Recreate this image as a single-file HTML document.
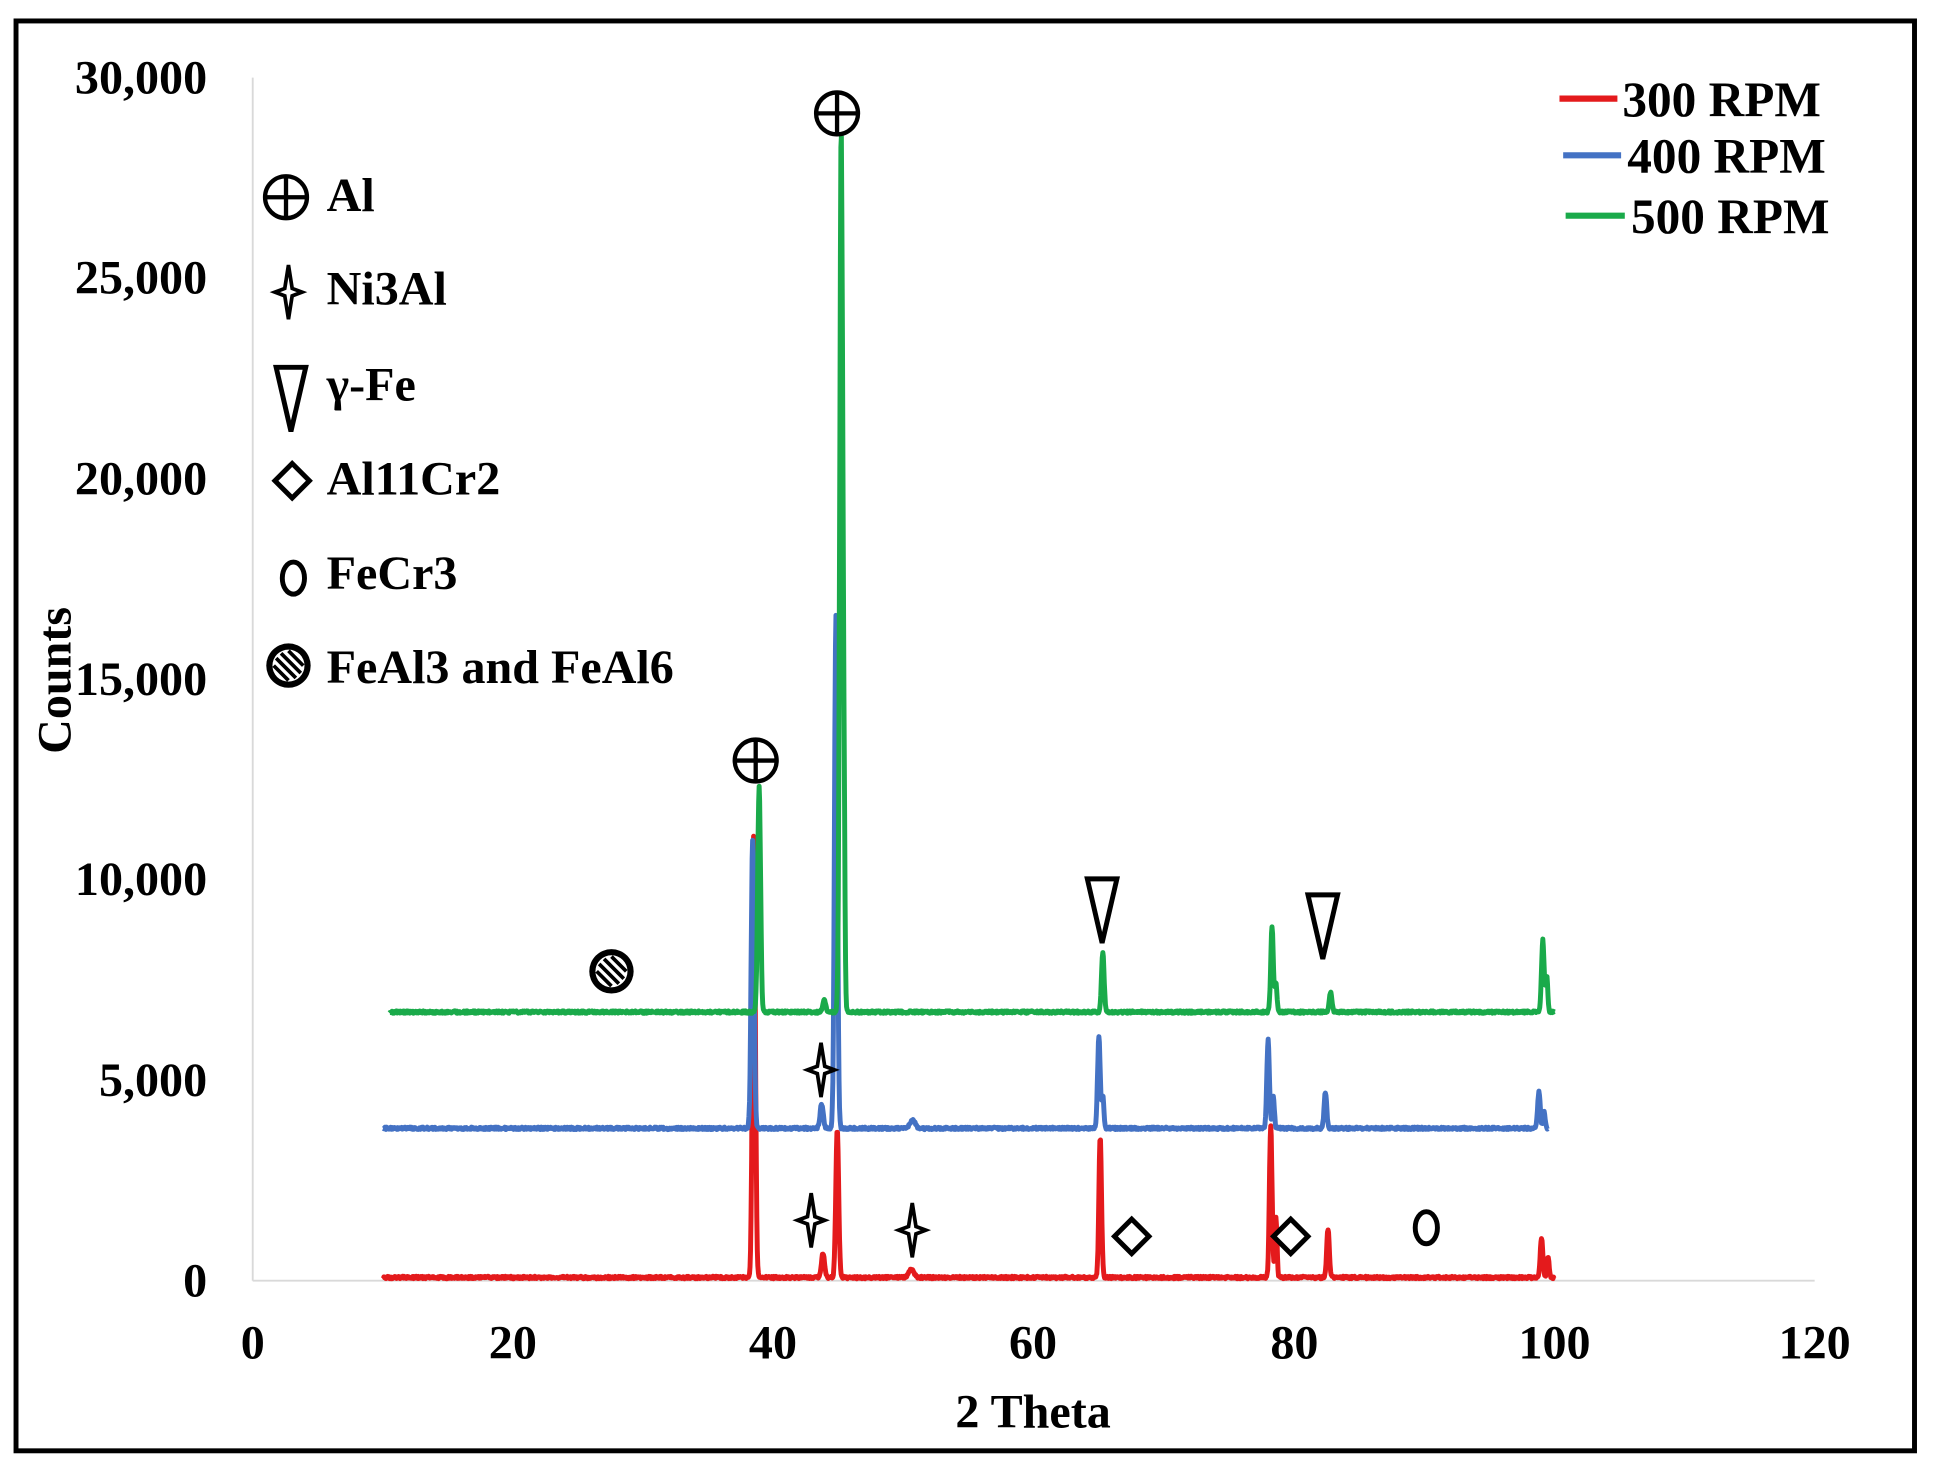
<!DOCTYPE html>
<html><head><meta charset="utf-8"><style>
html,body{margin:0;padding:0;background:#fff}
svg{display:block}
text{font-family:"Liberation Serif",serif;font-weight:bold;fill:#000}
</style></head><body>
<svg id="s" width="1933" height="1473" viewBox="0 0 1568 1195" preserveAspectRatio="none" xmlns="http://www.w3.org/2000/svg">
<defs>
<g id="plus"><circle r="17" fill="none" stroke="#000" stroke-width="3.5"/><line x1="-17" y1="0" x2="17" y2="0" stroke="#000" stroke-width="3.5"/><line x1="0" y1="-17" x2="0" y2="17" stroke="#000" stroke-width="3.5"/></g>
<g id="star"><path d="M0,-22 L3,-3 L11,0 L3,3 L0,22 L-3,3 L-11,0 L-3,-3 Z" fill="#fff" stroke="#000" stroke-width="3"/></g>
<g id="tri"><path d="M-12,-22 L12,-22 L0,30 Z" fill="#fff" stroke="#000" stroke-width="4"/></g>
<g id="dia"><path d="M0,-14 L14,0 L0,14 L-14,0 Z" fill="#fff" stroke="#000" stroke-width="4"/></g>
<g id="oo"><ellipse rx="9" ry="13" fill="#fff" stroke="#000" stroke-width="4"/></g>
<g id="hat"><circle r="18" fill="#000"/><circle r="13" fill="#fff"/><g stroke="#000" stroke-width="3"><line x1="-10" y1="-6" x2="6" y2="10"/><line x1="-6" y1="-10" x2="10" y2="6"/><line x1="-12" y1="0" x2="0" y2="12"/><line x1="0" y1="-12" x2="12" y2="0"/></g></g>
</defs>
<rect x="13" y="17" width="1540" height="1160" fill="none" stroke="#000" stroke-width="4"/>
<line x1="205" y1="63" x2="205" y2="1039" stroke="#d9d9d9" stroke-width="1.5"/>
<line x1="205" y1="1039" x2="1472" y2="1039" stroke="#d9d9d9" stroke-width="1.5"/>
<g font-size="39" text-anchor="end">
<text x="168" y="1052">0</text><text x="168" y="889">5,000</text><text x="168" y="726">10,000</text>
<text x="168" y="564">15,000</text><text x="168" y="401">20,000</text><text x="168" y="238">25,000</text><text x="168" y="76">30,000</text>
</g>
<g font-size="39" text-anchor="middle">
<text x="205" y="1102">0</text><text x="416" y="1102">20</text><text x="627" y="1102">40</text><text x="838" y="1102">60</text>
<text x="1050" y="1102">80</text><text x="1261" y="1102">100</text><text x="1472" y="1102">120</text>
<text x="838" y="1158">2 Theta</text>
<text transform="translate(57,552) rotate(-90)">Counts</text>
</g>
<g id="series" fill="none" stroke-width="4" stroke-linejoin="round"></g>
<g stroke-width="5"><line x1="1265" y1="80" x2="1312" y2="80" stroke="#e41a1c"/><line x1="1268" y1="126" x2="1315" y2="126" stroke="#4472c4"/><line x1="1270" y1="175" x2="1318" y2="175" stroke="#1aaa4a"/></g>
<g font-size="40"><text x="1316" y="94">300 RPM</text><text x="1320" y="140">400 RPM</text><text x="1323" y="189">500 RPM</text></g>
<g font-size="39">
<use href="#plus" x="232" y="160"/><text x="265" y="171">Al</text>
<use href="#star" x="234" y="237"/><text x="265" y="247">Ni3Al</text>
<use href="#tri" x="236" y="320"/><text x="265" y="325">γ-Fe</text>
<use href="#dia" x="237" y="390"/><text x="265" y="401">Al11Cr2</text>
<use href="#oo" x="238" y="469"/><text x="265" y="478">FeCr3</text>
<use href="#hat" x="234" y="540"/><text x="265" y="554">FeAl3 and FeAl6</text>
</g>
<use href="#plus" x="679" y="92"/><use href="#plus" x="613" y="617"/>
<use href="#hat" x="496" y="788"/>
<use href="#tri" x="894" y="735"/><use href="#tri" x="1073" y="748"/>
<use href="#star" x="666" y="868"/><use href="#star" x="658" y="990"/><use href="#star" x="740" y="998"/>
<use href="#dia" x="918" y="1003"/><use href="#dia" x="1047" y="1003"/>
<use href="#oo" x="1157" y="996"/>
</svg>
<script>
var X=v=>205+v*10.56, Y=c=>1039-c*0.03253;
var S=[
{c:"#e41a1c",b:80,x0:10,x1:100,p:[[38.5,11200,.11],[43.8,600,.12],[44.9,3700,.11],[50.6,200,.2],[65.1,3500,.1],[78.2,3800,.1],[78.6,1500,.08],[82.6,1200,.1],[99,1000,.1],[99.5,500,.08]]},
{c:"#4472c4",b:3800,x0:10,x1:99.5,p:[[38.4,7200,.11],[43.7,600,.12],[44.8,12800,.11],[50.7,200,.2],[65,2300,.1],[65.3,800,.08],[78,2200,.1],[78.4,800,.08],[82.4,900,.1],[98.8,900,.1],[99.2,400,.08]]},
{c:"#1aaa4a",b:6700,x0:10.5,x1:100,p:[[38.9,5600,.11],[43.9,300,.12],[45.2,21800,.11],[45.4,5000,.08],[65.3,1500,.1],[78.3,2100,.1],[78.6,700,.08],[82.8,500,.1],[99.1,1800,.1],[99.4,900,.08]]}];
var g=document.getElementById("series"),h="";
var seed=1;function rnd(){seed=(seed*16807)%2147483647;return seed/2147483647;}
S.forEach(s=>{var d="";for(var x=s.x0;x<=s.x1;x+=0.04){var c=s.b+(rnd()-.5)*60;s.p.forEach(p=>{c+=p[1]*Math.exp(-Math.pow((x-p[0])/p[2],2)/2)});d+=(d?"L":"M")+X(x).toFixed(1)+","+Y(c).toFixed(1);}h+='<path d="'+d+'" stroke="'+s.c+'"/>';});
g.innerHTML=h;
</script>
</body></html>
